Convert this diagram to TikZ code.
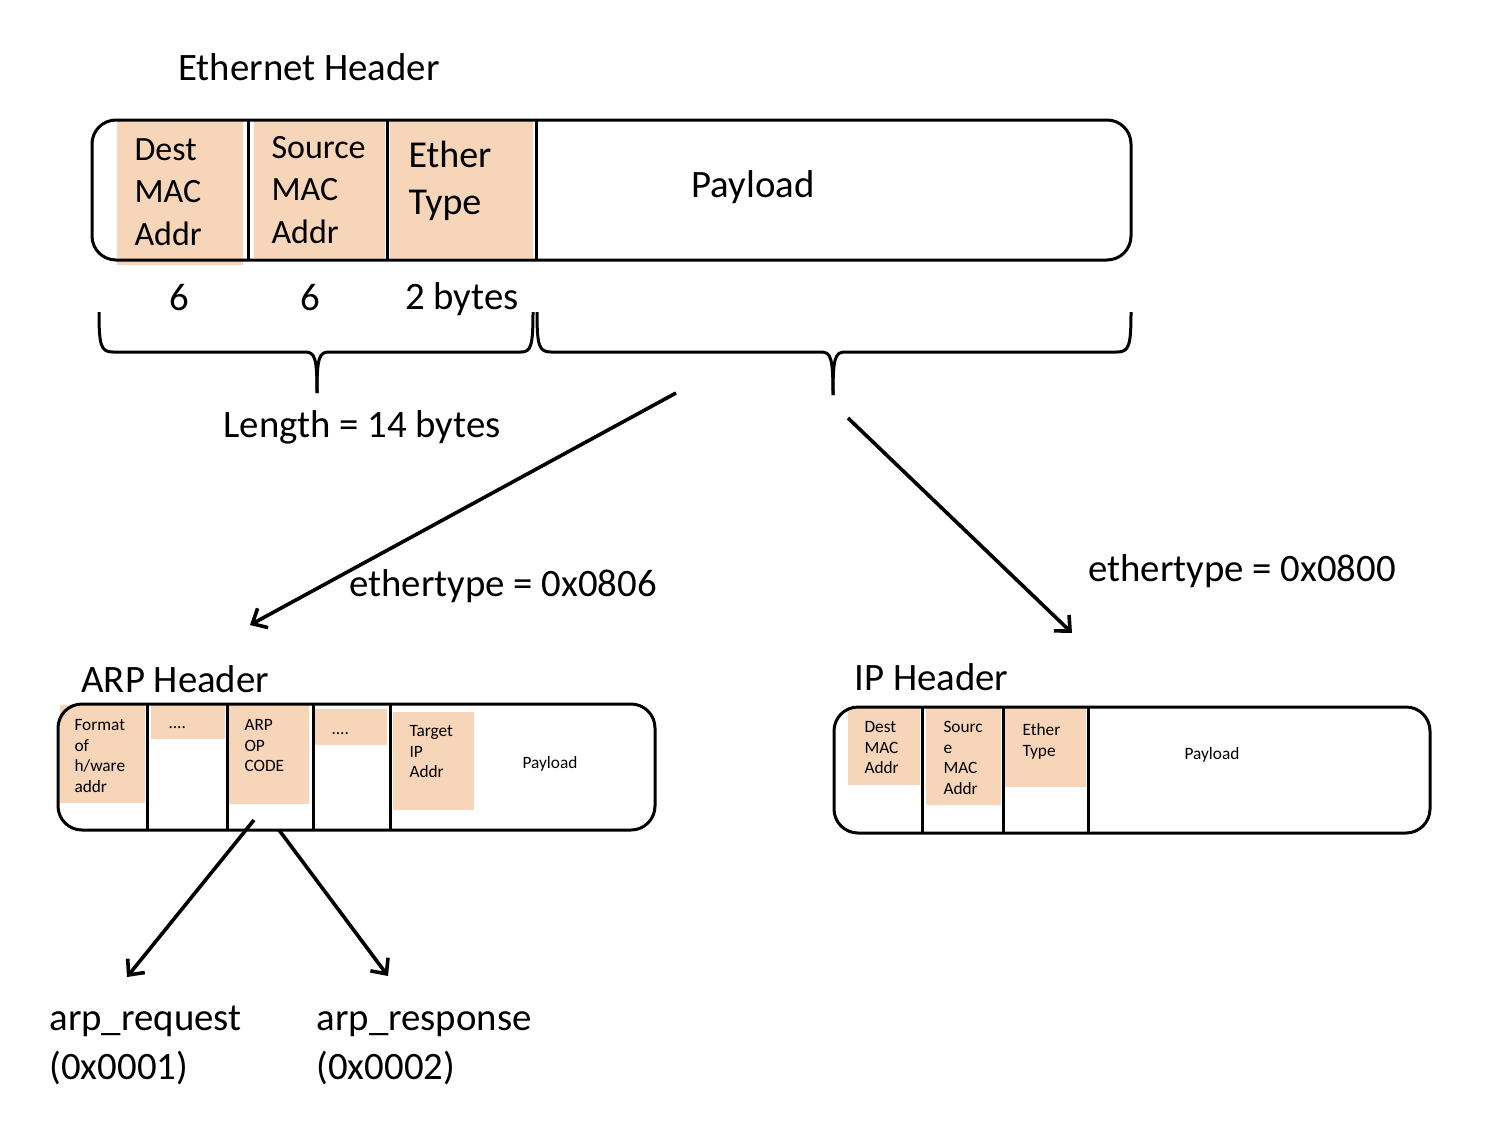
\documentclass[tikz,border=0pt]{standalone}
\usepackage{fontspec}
\setmainfont{Carlito}
\usetikzlibrary{arrows.meta}
\definecolor{peach}{RGB}{246,213,184}

\begin{document}
\begin{tikzpicture}[x=0.5pt,y=-0.5pt,line width=1.5pt,
    bigtxt/.style={font=\fontsize{19.4}{24.5}\selectfont,inner sep=0pt},
    midtxt/.style={font=\fontsize{17}{21.2}\selectfont,align=left,anchor=north west,inner sep=0pt},
    smalltxt/.style={font=\fontsize{8.65}{10.3}\selectfont,align=left,anchor=north west,inner sep=0pt},
    pktbox/.style={rounded corners=12pt},
    link/.style={->,line width=1.8pt},
    >={Straight Barb[length=6pt,width=11pt]}]

    \useasboundingbox (0,0) rectangle (1510,1130);

    % ethernet frame
    \node[bigtxt] (ethhead) at (309,67) {Ethernet Header};
    \fill[peach] (117,120) rectangle (243,265);
    \fill[peach] (254,121) rectangle (385,258);
    \fill[peach] (390,121) rectangle (533,258);
    \draw[pktbox] (92,120) rectangle (1131,260);
    \draw (248,120) -- (248,260);
    \draw (387,120) -- (387,260);
    \draw (536,120) -- (536,260);
    \node[midtxt] (ethdst) at (133,137) {Dest\\MAC\\Addr};
    \node[midtxt] (ethsrc) at (270,135) {Source\\MAC\\Addr};
    \node[midtxt,font=\fontsize{19}{23.5}\selectfont] (ethtype) at (407,140) {Ether\\Type};
    \node[bigtxt] (ethpay) at (753,187) {Payload};

    \node[bigtxt] (len6a) at (179,298) {6};
    \node[bigtxt] (len6b) at (310,298) {6};
    \node[bigtxt] (len2) at (462,299) {2 bytes};

    % braces
    \draw (99,312) .. controls (99,346) and (101,352) .. (113,352) -- (305,352) .. controls (315,352) and (317,358) .. (317,393);
    \draw (317,393) .. controls (317,358) and (319,352) .. (329,352) -- (521,352) .. controls (531,352) and (533,346) .. (533,312);
    \draw (537,312) .. controls (537,346) and (539,352) .. (551,352) -- (821,352) .. controls (831,352) and (833,358) .. (833,395);
    \draw (833,395) .. controls (833,358) and (835,352) .. (845,352) -- (1117,352) .. controls (1129,352) and (1131,346) .. (1131,312);
    \node[bigtxt] (hdrlen) at (362,427) {Length = 14 bytes};

    % ethertype arrows
    \coordinate (arpfrom) at (676,393);
    \coordinate (arpto) at (250,625);
    \coordinate (ipfrom) at (848,418);
    \coordinate (ipto) at (1072,633);
    \draw[link] (arpfrom) -- (arpto);
    \draw[link] (ipfrom) -- (ipto);
    \node[bigtxt] (arptype) at (503,586) {ethertype = 0x0806};
    \node[bigtxt] (iptype) at (1242,571) {ethertype = 0x0800};

    % arp header
    \node[bigtxt,anchor=west] (arphead) at (80,679) {ARP Header};
    \fill[peach] (60,705) rectangle (145,803);
    \fill[peach] (151,705) rectangle (225,739);
    \fill[peach] (229,705) rectangle (309,804);
    \fill[peach] (315,709) rectangle (387,745);
    \fill[peach] (393,712) rectangle (474,810);
    \draw[pktbox] (58,704) rectangle (655,830);
    \draw (147,704) -- (147,830);
    \draw (227,704) -- (227,830);
    \draw (313,704) -- (313,830);
    \draw (390,704) -- (390,830);
    \node[smalltxt] (arpfmt) at (73,718) {Format\\of\\h/ware\\addr};
    \node[smalltxt,anchor=base west] (arpdots) at (167,728) {....};
    \node[smalltxt] (arpop) at (243,718) {ARP\\OP\\CODE};
    \node[smalltxt,anchor=base west] (arpdots2) at (330,734) {....};
    \node[smalltxt] (arptgt) at (408,724) {Target\\IP\\Addr};
    \node[smalltxt,anchor=center] (arppay) at (550,764) {Payload};

    % op code arrows
    \coordinate (reqfrom) at (254,820);
    \coordinate (reqto) at (127,977);
    \coordinate (rspfrom) at (279,830);
    \coordinate (rspto) at (388,976);
    \draw[link] (reqfrom) -- (reqto);
    \draw[link] (rspfrom) -- (rspto);
    \node[bigtxt,anchor=north west,align=left] (arpreq) at (48,995) {\strut arp\_request\\(0x0001)};
    \node[bigtxt,anchor=north west,align=left] (arprsp) at (315,995) {\strut arp\_response\\(0x0002)};

    % ip header
    \node[bigtxt,anchor=west] (iphead) at (853,677) {IP Header};
    \fill[peach] (848,708) rectangle (920,785);
    \fill[peach] (926,708) rectangle (1001,805);
    \fill[peach] (1005,708) rectangle (1086,787);
    \draw[pktbox] (834,707) rectangle (1430,833);
    \draw (922,707) -- (922,833);
    \draw (1003,707) -- (1003,833);
    \draw (1088,707) -- (1088,833);
    \node[smalltxt] (ipdst) at (863,720) {Dest\\MAC\\Addr};
    \node[smalltxt] (ipsrc) at (942,720) {Sourc\\e\\MAC\\Addr};
    \node[smalltxt] (iptyp) at (1021,722) {Ether\\Type};
    \node[smalltxt,anchor=center] (ippay) at (1212,755) {Payload};
\end{tikzpicture}
\end{document}
